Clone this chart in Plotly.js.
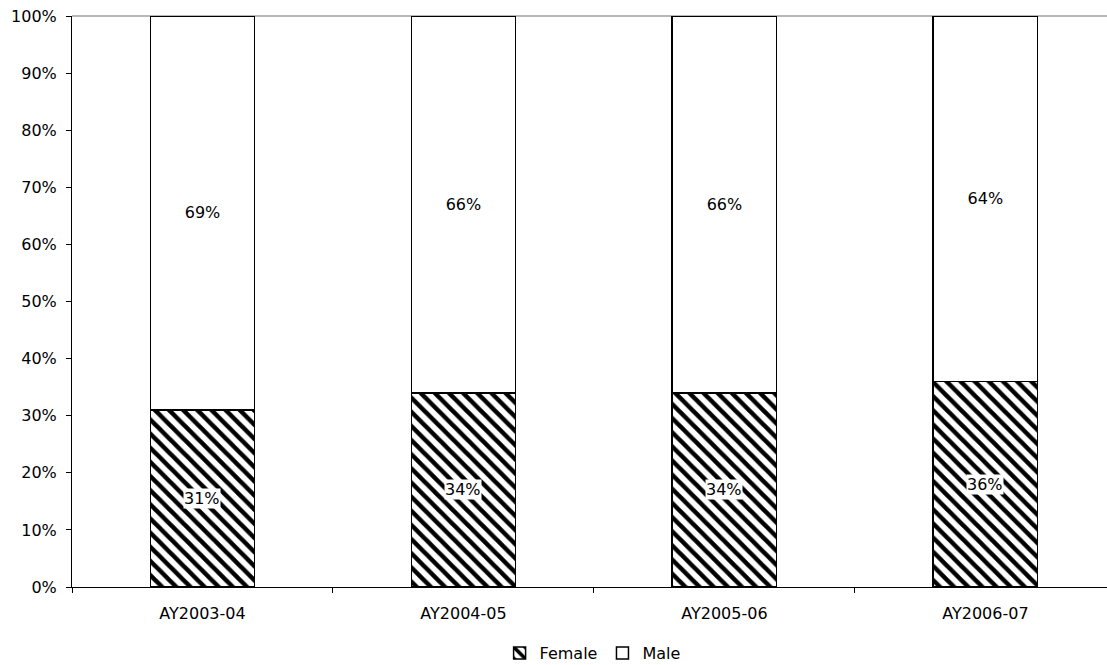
<!DOCTYPE html>
<html>
<head>
<meta charset="utf-8">
<script src="https://cdn.plot.ly/plotly-3.0.1.min.js"></script>
<style>html,body{margin:0;padding:0;background:#fff;}#chart{width:1107px;height:665px;}</style>
</head>
<body>
<div id="chart"></div>
<script>
const categories = ['AY2003-04', 'AY2004-05', 'AY2005-06', 'AY2006-07'];
const female = [31, 34, 34, 36];
const male = [69, 66, 66, 64];
const yTicks = [0, 10, 20, 30, 40, 50, 60, 70, 80, 90, 100];

const FONT = 'DejaVu Sans, Verdana, sans-serif';
const FS = 16;

const traces = [
  {
    type: 'bar', name: 'Female', x: categories, y: female,
    marker: {
      color: '#ffffff',
      line: {color: '#000000', width: 1.5},
      pattern: {shape: '\\', fgcolor: '#000000', bgcolor: '#ffffff', size: 10, solidity: 0.45}
    },
    hoverinfo: 'skip'
  },
  {
    type: 'bar', name: 'Male', x: categories, y: male,
    marker: {color: '#ffffff', line: {color: '#000000', width: 1.5}},
    text: male.map(v => v + '%'), textposition: 'inside', insidetextanchor: 'middle',
    textfont: {family: FONT, size: FS, color: '#000000'},
    hoverinfo: 'skip'
  }
];

const annotations = categories.map((c, i) => ({
  x: c, y: female[i] / 2, xref: 'x', yref: 'y',
  text: female[i] + '%', showarrow: false,
  bgcolor: '#ffffff', borderpad: 0,
  font: {family: FONT, size: FS, color: '#000000'}
}));

const layout = {
  width: 1107, height: 665,
  margin: {l: 72, r: 0, t: 16, b: 78, autoexpand: false},
  paper_bgcolor: '#ffffff', plot_bgcolor: '#ffffff',
  barmode: 'stack', bargap: 0.6,
  font: {family: FONT, size: FS, color: '#000000'},
  xaxis: {
    type: 'category', range: [-0.5, 3.466], autorange: false,
    showline: true, linecolor: '#000000', linewidth: 1,
    ticks: 'outside', tickson: 'boundaries', ticklen: 5, tickcolor: '#000000',
    ticklabelstandoff: 12,
    showgrid: false, zeroline: false,
    tickfont: {family: FONT, size: FS}
  },
  yaxis: {
    range: [0, 100], autorange: false,
    tickvals: yTicks, ticktext: yTicks.map(v => v + '%'),
    showline: true, linecolor: '#000000', linewidth: 1,
    ticks: 'outside', ticklen: 5, tickcolor: '#000000',
    ticklabelstandoff: 6,
    showgrid: false, zeroline: false,
    tickfont: {family: FONT, size: FS}
  },
  shapes: [{type: 'line', xref: 'paper', yref: 'paper', x0: 0, x1: 1, y0: 1, y1: 1,
            line: {color: '#a0a0a0', width: 1.5}, layer: 'below'}],
  annotations: annotations,
  showlegend: true,
  legend: {
    orientation: 'h', xref: 'paper', x: 0.503, xanchor: 'center',
    yref: 'container', y: 0.018, yanchor: 'middle',
    font: {family: FONT, size: FS}, traceorder: 'normal',
    itemwidth: 30, tracegroupgap: 0
  }
};

Plotly.newPlot('chart', traces, layout, {displayModeBar: false, staticPlot: true});
</script>
</body>
</html>
